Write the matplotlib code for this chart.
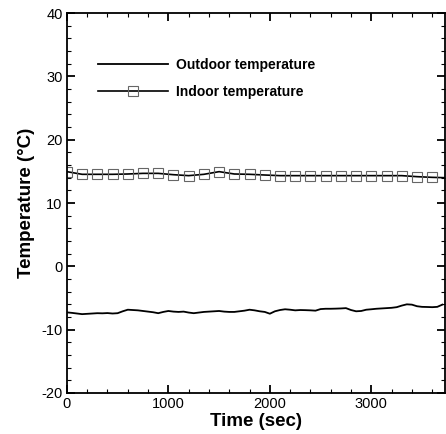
import numpy as np
import matplotlib
matplotlib.use("Agg")
import matplotlib.pyplot as plt
from matplotlib.ticker import MultipleLocator

plt.rcParams['font.family'] = ['Liberation Sans', 'DejaVu Sans']
plt.rcParams['axes.unicode_minus'] = False

# Outdoor temperature (every 50 s)
outdoor_time = list(range(0, 3701, 50))
outdoor_temp = [-7.27, -7.35, -7.45, -7.55, -7.5, -7.45, -7.4, -7.42, -7.38, -7.45,
                -7.4, -7.1, -6.85, -6.9, -6.95, -7.05, -7.15, -7.25, -7.4, -7.2,
                -7.05, -7.15, -7.2, -7.15, -7.3, -7.4, -7.3, -7.2, -7.15, -7.1,
                -7.05, -7.15, -7.2, -7.2, -7.1, -7.0, -6.85, -6.95, -7.1, -7.2,
                -7.48, -7.1, -6.9, -6.78, -6.85, -6.95, -6.9, -6.92, -6.95, -7.0,
                -6.75, -6.7, -6.7, -6.68, -6.65, -6.6, -6.9, -7.1, -7.05, -6.85,
                -6.78, -6.7, -6.65, -6.6, -6.55, -6.45, -6.2, -6.0, -6.05, -6.3,
                -6.4, -6.42, -6.45, -6.4, -6.05]

# Indoor temperature (every 150 s, plus end point)
indoor_time = list(range(0, 3601, 150)) + [3720]
indoor_temp = [14.95, 14.53, 14.53, 14.53, 14.58, 14.68, 14.68, 14.47, 14.32, 14.53,
               14.95, 14.58, 14.53, 14.42, 14.32, 14.32, 14.32, 14.32, 14.32, 14.32,
               14.32, 14.32, 14.32, 14.16, 14.05, 14.0]

fig = plt.figure(figsize=(4.46, 4.34), dpi=100)
ax = fig.add_axes([0.150, 0.0945, 0.8475, 0.8755])

ax.plot(outdoor_time, outdoor_temp, color='black', lw=1.3, label='Outdoor temperature')
ax.plot(indoor_time, indoor_temp, color='black', lw=1.2, marker='s', ms=7,
        mfc='none', mec='#666666', mew=0.8, markevery=list(range(len(indoor_time) - 1)),
        label='Indoor temperature')

ax.set_xlim(0, 3725)
ax.set_ylim(-20, 40)
ax.xaxis.set_major_locator(MultipleLocator(1000))
ax.xaxis.set_minor_locator(MultipleLocator(200))
ax.yaxis.set_major_locator(MultipleLocator(10))
ax.yaxis.set_minor_locator(MultipleLocator(2))
ax.tick_params(which='both', direction='in', top=True, right=True, labelsize=10.5)
ax.tick_params(which='major', length=6, width=1.3)
ax.tick_params(which='minor', length=3, width=0.8)
ax.tick_params(axis='x', pad=3)
ax.tick_params(axis='y', pad=3)
for s in ax.spines.values():
    s.set_linewidth(1.3)

ax.set_xlabel('Time (sec)', fontsize=13.5, fontweight='bold', labelpad=1)
ax.set_ylabel('Temperature (°C)', fontsize=13.5, fontweight='bold', labelpad=5)

leg = ax.legend(loc='upper left', bbox_to_anchor=(0.05, 0.915), frameon=False,
                handlelength=5.0, handletextpad=0.6, labelspacing=0.95,
                numpoints=1, prop={'weight': 'bold', 'size': 10})
h = leg.legend_handles[1]
h.set_markevery([1])
h.set_markersize(7.5)

fig.savefig('out.png', dpi=100)
